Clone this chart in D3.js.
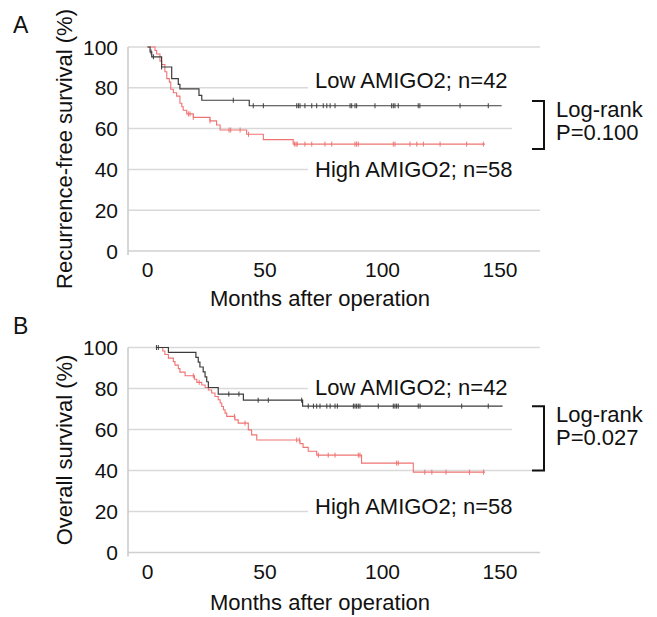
<!DOCTYPE html>
<html><head><meta charset="utf-8">
<script src="https://cdn.jsdelivr.net/npm/d3@7"></script>
<style>html,body{margin:0;padding:0;background:#fff;}svg{display:block;}</style>
</head><body>
<script>
// ---------- data ----------
const xTickVals = [0, 50, 100, 150];
const yTickVals = [0, 20, 40, 60, 80, 100];
const xTitle = "Months after operation";

// Panel A: recurrence-free survival
const rfsLowTimes = [0, 1.1, 1.8, 6.0, 10.3, 13.1, 13.8, 21.9, 23.1, 43.3];
const rfsLowSurv  = [100, 97.6, 95.2, 90.2, 84.5, 81.7, 79.5, 76.3, 73.9, 71.2];
const rfsLowEnd = 150.7;
const rfsLowCensor = [1.5, 2.5, 6.0, 36.5, 45.0, 49.3, 63.5, 64.2, 64.9, 67.0, 69.9, 72.0, 74.8, 76.3, 77.7, 79.8, 86.2, 86.9, 88.3, 89.0, 96.8, 103.9, 104.6, 105.3, 106.7, 115.2, 115.9, 133.0, 145.0];

const rfsHighTimes = [0, 3.2, 3.9, 5.3, 6.0, 7.4, 8.2, 9.3, 9.9, 11.0, 12.4, 13.8, 14.6, 15.2, 16.7, 19.5, 26.6, 29.4, 30.9, 42.2, 49.3, 62.0];
const rfsHighSurv  = [100, 98.3, 96.6, 93.1, 91.4, 87.9, 84.5, 82.8, 79.3, 77.6, 75.9, 72.4, 70.7, 69.0, 67.2, 65.5, 63.8, 61.8, 59.3, 57.2, 54.6, 52.4];
const rfsHighEnd = 143.6;
const rfsHighCensor = [17.4, 18.1, 19.5, 26.6, 34.7, 35.4, 39.4, 43.0, 62.5, 63.2, 63.7, 67.0, 69.9, 75.5, 78.4, 88.3, 89.0, 89.7, 104.6, 105.3, 111.7, 114.6, 117.4, 124.5, 135.8, 142.9];

// Panel B: overall survival
const osLowTimes = [3.6, 8.9, 20.6, 21.6, 22.3, 23.7, 24.5, 25.2, 25.9, 30.1, 40.8, 66.0];
const osLowSurv  = [100, 97.6, 95.2, 92.9, 90.5, 88.1, 85.7, 83.3, 80.5, 77.3, 74.3, 71.4];
const osLowEnd = 151.1;
const osLowCensor = [3.8, 4.6, 34.6, 38.9, 47.1, 51.4, 65.6, 68.4, 70.6, 72.0, 73.4, 76.3, 77.7, 79.8, 80.8, 87.6, 88.3, 89.0, 89.7, 90.4, 98.2, 104.6, 105.3, 106.0, 106.7, 115.2, 116.0, 133.7, 145.0];

const osHighTimes = [5.6, 6.5, 7.4, 8.9, 11.0, 11.7, 13.1, 13.8, 16.0, 20.0, 21.0, 23.1, 24.5, 25.9, 27.3, 28.7, 30.1, 30.9, 31.6, 32.3, 33.0, 33.7, 37.2, 38.6, 42.9, 44.3, 46.5, 64.9, 66.2, 68.4, 72.0, 91.1, 113.1];
const osHighSurv  = [100, 98.3, 96.6, 94.8, 93.1, 91.4, 89.7, 88.0, 86.2, 84.5, 83.0, 81.7, 80.5, 79.3, 77.8, 76.1, 74.5, 72.9, 71.2, 69.6, 68.0, 66.4, 64.7, 63.1, 59.8, 57.4, 54.9, 53.1, 51.3, 49.4, 47.5, 43.6, 39.2];
const osHighEnd = 143.6;
const osHighCensor = [19.5, 22.0, 37.0, 41.5, 63.5, 64.6, 72.7, 76.9, 79.8, 89.7, 90.4, 106.0, 106.7, 118.0, 121.0, 127.0, 137.0, 143.0];

const panels = [
  {letter: "A", yTitle: "Recurrence-free survival (%)", top: 47, bottom: 251, xTitleY: 306,
   low: {t: rfsLowTimes, s: rfsLowSurv, end: rfsLowEnd, c: rfsLowCensor, label: "Low AMIGO2; n=42"},
   high: {t: rfsHighTimes, s: rfsHighSurv, end: rfsHighEnd, c: rfsHighCensor, label: "High AMIGO2; n=58"},
   lowLabelY: 88, highLabelY: 177, bracket: [73.5, 50], pval: "P=0.100"},
  {letter: "B", yTitle: "Overall survival (%)", top: 347.5, bottom: 552.5, xTitleY: 610,
   low: {t: osLowTimes, s: osLowSurv, end: osLowEnd, c: osLowCensor, label: "Low AMIGO2; n=42"},
   high: {t: osHighTimes, s: osHighSurv, end: osHighEnd, c: osHighCensor, label: "High AMIGO2; n=58"},
   lowLabelY: 395, highLabelY: 514, bracket: [71.3, 40], pval: "P=0.027"}
];

// ---------- drawing ----------
const W = 657, H = 617;
const FONT = "'Liberation Sans', Arial, Helvetica, sans-serif";
const svg = d3.select("body").append("svg").attr("width", W).attr("height", H)
  .style("font-family", FONT);

const x = d3.scaleLinear().domain([0, 150]).range([147.5, 500]);
const axisLeft = 128, gridRight = 540;

function stepValue(t, s, at) {
  let v = s[0];
  for (let i = 0; i < t.length; i++) if (t[i] <= at) v = s[i];
  return v;
}

panels.forEach(p => {
  const y = d3.scaleLinear().domain([0, 100]).range([p.bottom, p.top]);
  const g = svg.append("g");

  // gridlines
  g.selectAll("line.grid").data(yTickVals.filter(d => d > 0)).join("line")
    .attr("x1", axisLeft).attr("x2", gridRight)
    .attr("y1", d => y(d)).attr("y2", d => y(d))
    .attr("stroke", "#d9d9d9").attr("stroke-width", 1.5);
  // x axis line
  g.append("line").attr("x1", axisLeft).attr("x2", gridRight)
    .attr("y1", y(0)).attr("y2", y(0)).attr("stroke", "#d0d0d0").attr("stroke-width", 1.5);
  // y axis line
  g.append("line").attr("x1", axisLeft).attr("x2", axisLeft)
    .attr("y1", y(100)).attr("y2", y(0) + 4).attr("stroke", "#c8c8c8").attr("stroke-width", 1.5);

  // tick labels
  g.selectAll("text.yt").data(yTickVals).join("text")
    .attr("x", 118).attr("y", d => y(d)).attr("dy", "0.36em")
    .attr("text-anchor", "end").attr("font-size", 21).attr("fill", "#111").text(d => d);
  g.selectAll("text.xt").data(xTickVals).join("text")
    .attr("x", d => x(d)).attr("y", y(0) + 26)
    .attr("text-anchor", "middle").attr("font-size", 21).attr("fill", "#111").text(d => d);

  // titles
  g.append("text").attr("x", 320).attr("y", p.xTitleY).attr("text-anchor", "middle")
    .attr("font-size", 22).attr("fill", "#111").text(xTitle);
  g.append("text").attr("transform", `translate(72,${(p.top + p.bottom) / 2}) rotate(-90)`)
    .attr("text-anchor", "middle").attr("font-size", 22).attr("fill", "#111").text(p.yTitle);
  g.append("text").attr("x", 13).attr("y", p.top - 14).attr("font-size", 23).attr("fill", "#111").text(p.letter);

  // curves
  const line = d3.line().x(d => x(d[0])).y(d => y(d[1])).curve(d3.curveStepAfter);
  function drawCurve(c, color, w) {
    const pts = c.t.map((t, i) => [t, c.s[i]]);
    pts.push([c.end, c.s[c.s.length - 1]]);
    g.append("path").datum(pts).attr("d", line).attr("fill", "none")
      .attr("stroke", color).attr("stroke-width", w);
    g.selectAll(null).data(c.c).join("line")
      .attr("x1", d => x(d)).attr("x2", d => x(d))
      .attr("y1", d => y(stepValue(c.t, c.s, d)) - 2.5)
      .attr("y2", d => y(stepValue(c.t, c.s, d)) + 2.5)
      .attr("stroke", color).attr("stroke-width", 1);
  }
  drawCurve(p.high, "#f07373", 1.1);
  drawCurve(p.low, "#3c3c3c", 1.2);

  // labels with white backgrounds
  function label(txt, yy) {
    const t = g.append("text").attr("x", 315).attr("y", yy).attr("font-size", 22)
      .attr("fill", "#111").text(txt);
    const bb = t.node().getBBox();
    g.insert("rect", () => t.node()).attr("x", bb.x - 7).attr("y", bb.y + 2)
      .attr("width", 545 - (bb.x - 7)).attr("height", bb.height - 4).attr("fill", "#fff");
  }
  label(p.low.label, p.lowLabelY);
  label(p.high.label, p.highLabelY);

  // bracket
  const bTop = y(p.bracket[0]), bBot = y(p.bracket[1]);
  g.append("rect").attr("x", 512).attr("y", bTop - 2).attr("width", 145).attr("height", bBot - bTop - 1)
    .attr("fill", "#fff");
  g.append("path").attr("d", `M532,${bTop}H544V${bBot}H532`).attr("fill", "none")
    .attr("stroke", "#111").attr("stroke-width", 2);
  g.append("text").attr("x", 556).attr("y", bTop + 16).attr("font-size", 22).attr("fill", "#111").text("Log-rank");
  g.append("text").attr("x", 556).attr("y", bTop + 39).attr("font-size", 22).attr("fill", "#111").text(p.pval);
});
</script>
</body></html>
